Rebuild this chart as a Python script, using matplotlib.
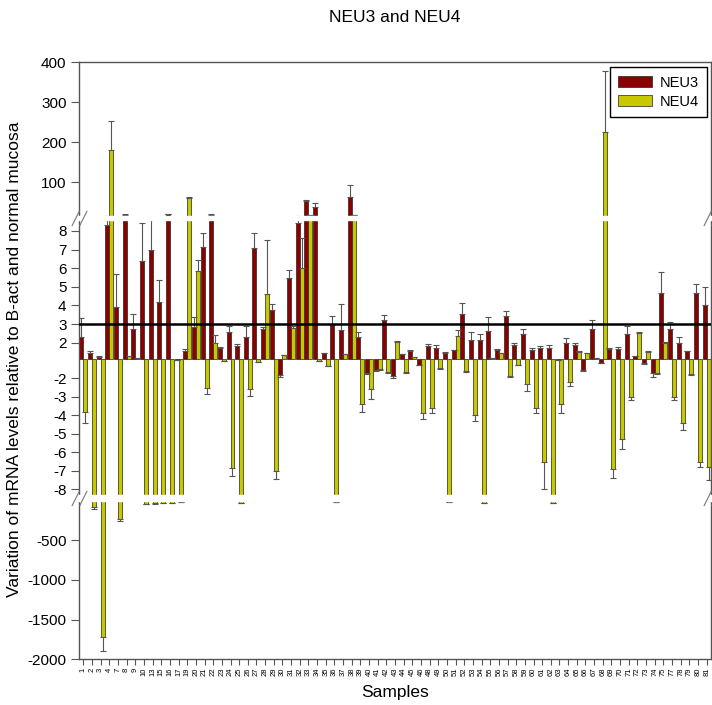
import numpy as np
import matplotlib
matplotlib.use('Agg')
import matplotlib.pyplot as plt
from matplotlib.path import Path
from matplotlib.patches import Patch

plt.rcParams['font.family'] = ['Liberation Sans', 'DejaVu Sans']

# sample ids
samples = [1, 2, 3, 4, 7, 8, 9, 10, 13, 15, 16, 17, 19, 20, 21, 22, 23, 24, 25, 26,
           27, 28, 29, 30, 31, 32, 33, 34, 35, 36, 37, 38, 39, 40, 41, 42, 43, 44, 45, 46,
           48, 49, 50, 51, 52, 53, 54, 55, 56, 57, 58, 59, 60, 61, 62, 63, 64, 65, 66, 67,
           68, 69, 70, 71, 72, 73, 74, 75, 77, 78, 79, 80, 81]

neu3 = [2.3, 0.72, 0.31, 8.3, 3.9, 17, 2.75, 6.4, 6.95, 4.17, 20, -0.1, 1.0, 2.85, 7.16, 17,
        1.33, 2.57, 1.64, 2.3, 7.1, 2.75, 3.74, -1.7, 5.45, 8.4, 53, 38, 0.72, 2.94, 2.67, 62,
        2.3, -1.47, -1.1, 3.2, -1.8, 0.6, 1.04, -0.6, 1.64, 1.33, 0.8, 1.08, 3.54, 2.15, 2.15,
        2.64, 1.12, 3.45, 1.7, 2.48, 1.12, 1.39, 1.39, -0.1, 1.95, 1.76, -1.13, 2.72, -0.36,
        1.24, 1.2, 2.44, 0.4, -0.4, -1.47, 4.65, 2.75, 1.98, 1.0, 4.67, 4.03]
neu3_err = [1.0, 0.28, 0.05, 7.7, 1.8, 2, 0.8, 2.0, 1.9, 1.2, 1, 0, 0.2, 0.55, 0.7, 2,
            0.1, 0.3, 0.15, 0.6, 0.8, 0.1, 0.35, 0.2, 0.45, 7.6, 3, 10, 0.05, 0.5, 1.4, 30,
            0.3, 0.1, 0.1, 0.3, 0.2, 0.05, 0.05, 0.05, 0.2, 0.45, 0.05, 0.05, 0.58, 0.43, 0.3,
            0.75, 0.13, 0.25, 0.3, 0.25, 0.3, 0.25, 0.35, 0, 0.3, 0.15, 0.1, 0.5, 0.05,
            0.17, 0.3, 0.46, 0.05, 0.05, 0.4, 1.15, 0.35, 0.3, 0.05, 0.5, 0.95]

neu4 = [-3.83, -90, -1720, 180, -240, 0.4, 0.1, -45, -40, -30, -30, -25, 59, 5.85, -2.5, 2.0,
        -0.2, -6.85, -35, -2.6, -0.3, 4.6, -7.0, 0.5, 2.8, 6.0, 17, -0.2, -0.7, -25, 0.6, 17,
        -3.4, -2.6, -1.0, -1.3, 2.05, -1.37, 0.3, -3.9, -3.6, -0.95, -25, 2.38, -1.2, -4.0, -30,
        0.1, 0.7, -1.8, -0.6, -2.3, -3.6, -6.5, -35, -3.4, -2.2, 0.92, 0.72, 0.15, 225,
        -6.9, -5.3, -3.0, 2.5, 0.85, -1.4, 2.0, -3.0, -4.4, -1.6, -6.5, -6.8]
neu4_err = [0.6, 15, 180, 73, 20, 0.05, 0, 5, 5, 4, 4, 3, 3, 0.6, 0.35, 0.4,
            0, 0.45, 4, 0.35, 0, 2.9, 0.45, 0.05, 0.1, 1.6, 1, 0, 0, 3, 0.05, 1,
            0.4, 0.5, 0.1, 0.1, 0.05, 0.1, 0, 0.3, 0.3, 0.05, 3, 0.3, 0.1, 0.3, 3,
            0, 0.05, 0.1, 0.05, 0.4, 0.3, 1.5, 4, 0.5, 0.2, 0.05, 0.05, 0, 153,
            0.5, 0.5, 0.2, 0.05, 0.1, 0.1, 0.05, 0.2, 0.4, 0.1, 0.3, 0.7]

# broken y axis: value -> vertical position (piecewise linear)
axis_vals = [-2000, -500, -9.5, -8.3, -2, 0, 2, 8.6, 15, 400]
axis_pos = [0, 119.3, 158.3, 164.5, 281, 300, 316.6, 439.6, 443.3, 597.3]

def fwd(v):
    return np.interp(v, axis_vals, axis_pos)

def inv(p):
    return np.interp(p, axis_pos, axis_vals)

ytick_vals = [-2000, -1500, -1000, -500, -8, -7, -6, -5, -4, -3, -2,
              2, 3, 4, 5, 6, 7, 8, 100, 200, 300, 400]
ytick_labels = ['-2000', '-1500', '-1000', '-500', '-8', '-7', '-6', '-5', '-4', '-3', '-2',
                '2', '3', '4', '5', '6', '7', '8', '100', '200', '300', '400']

red = '#8C0000'
yel = '#C8C800'
grey = '#555555'

fig = plt.figure(figsize=(7.12, 7.05), dpi=100)
ax = fig.add_axes([79 / 712, 1 - 659.3 / 705, 632 / 712, 597.3 / 705])
ax.set_yscale('function', functions=(fwd, inv))

x = np.arange(len(samples))
w = 0.46

def split_err(vals, errs):
    lo = [e if v < 0 else 0 for v, e in zip(vals, errs)]
    hi = [e if v >= 0 else 0 for v, e in zip(vals, errs)]
    return [lo, hi]

ax.bar(x - w / 2, neu3, w, color=red, edgecolor='#222222', linewidth=0.5, zorder=2, label='NEU3')
ax.bar(x + w / 2, neu4, w, color=yel, edgecolor='#222222', linewidth=0.5, zorder=2, label='NEU4')
ax.errorbar(x - w / 2, neu3, yerr=split_err(neu3, neu3_err), fmt='none', ecolor=grey,
            elinewidth=0.8, capsize=2, capthick=0.8, zorder=3)
ax.errorbar(x + w / 2, neu4, yerr=split_err(neu4, neu4_err), fmt='none', ecolor=grey,
            elinewidth=0.8, capsize=2, capthick=0.8, zorder=3)

ax.axhline(3, color='black', lw=1.8, zorder=5)

ax.set_xlim(-0.5, len(samples) - 0.5)
ax.set_ylim(-2000, 400)
ax.set_yticks(ytick_vals)
ax.set_yticklabels(ytick_labels, fontsize=11)
ax.yaxis.set_minor_locator(matplotlib.ticker.NullLocator())
ax.set_xticks(x)
ax.set_xticklabels([str(s) for s in samples], rotation=90, fontsize=5.5)
ax.tick_params(axis='y', direction='out', length=6, color=grey, pad=3)
ax.tick_params(axis='x', direction='out', length=4, color=grey, pad=2)
for sp in ax.spines.values():
    sp.set_color(grey)
    sp.set_linewidth(1.0)

# white gaps across bars and spines at the breaks, then the // marks
brk = Path([(-1, -1), (0, 1), (0, -1), (1, 1)],
           [Path.MOVETO, Path.LINETO, Path.MOVETO, Path.LINETO])
for lo, hi, mid in [(8.6, 15, 12), (-9.5, -8.3, -8.9)]:
    ax.axhspan(lo, hi, xmin=-0.01, xmax=1.01, color='white', zorder=4, clip_on=False)
    ax.plot([0, 1], [mid, mid], transform=ax.get_yaxis_transform(), ls='none',
            marker=brk, markersize=11, mew=0.8, color='#777777', clip_on=False, zorder=6)

ax.legend(handles=[Patch(facecolor=red, edgecolor='#222222', lw=0.5, label='NEU3'),
                   Patch(facecolor=yel, edgecolor='#222222', lw=0.5, label='NEU4')],
          loc='upper right', bbox_to_anchor=(0.994, 0.992), borderaxespad=0,
          fancybox=False, edgecolor='black', framealpha=1, fontsize=10.5,
          handlelength=2.3, handleheight=0.75, handletextpad=0.5,
          borderpad=0.6, labelspacing=0.35)

fig.text(395 / 712, 1 - 18 / 705, 'NEU3 and NEU4', ha='center', va='center', fontsize=12.5)
fig.text(15 / 712, 0.49, 'Variation of mRNA levels relative to B-act and normal mucosa',
         rotation=90, ha='center', va='center', fontsize=12.5)
fig.text(395 / 712, 1 - 692 / 705, 'Samples', ha='center', va='center', fontsize=12.5)

fig.savefig('out.png', dpi=100)
